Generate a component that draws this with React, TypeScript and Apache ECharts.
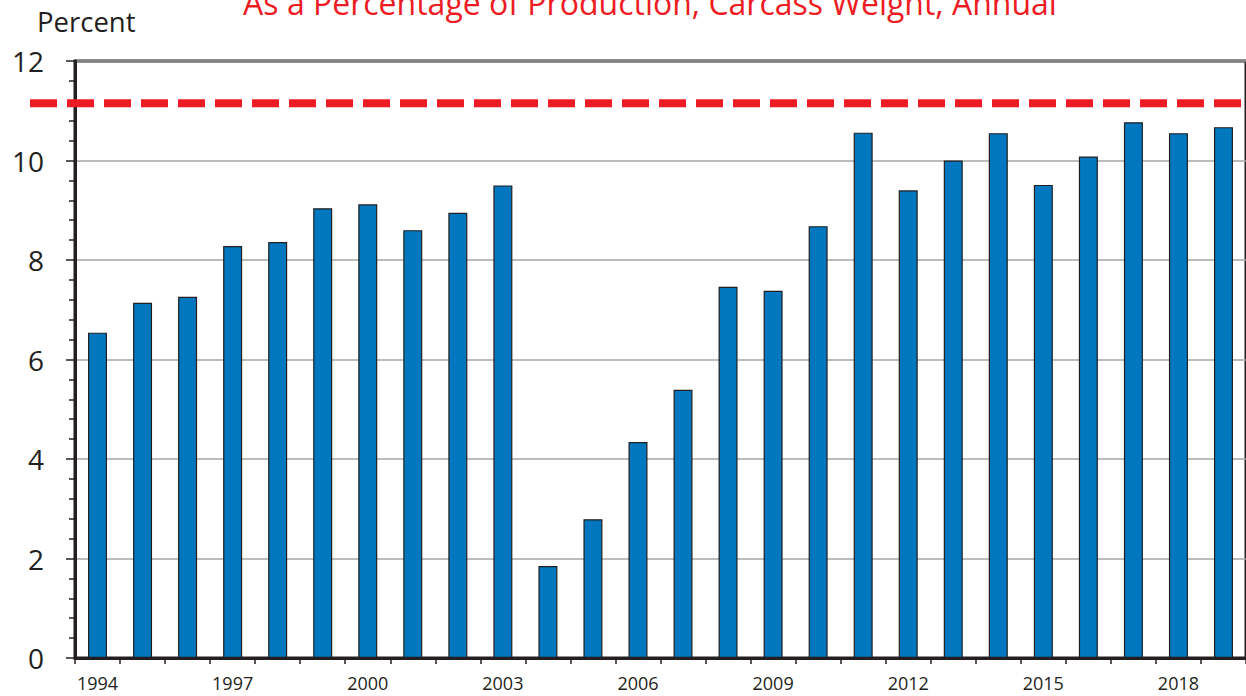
import React, { useEffect, useRef } from "react";
import * as echarts from "echarts";

const years: string[] = [
  "1994", "1995", "1996", "1997", "1998", "1999", "2000", "2001", "2002", "2003",
  "2004", "2005", "2006", "2007", "2008", "2009", "2010", "2011", "2012", "2013",
  "2014", "2015", "2016", "2017", "2018", "2019",
];
const shares: number[] = [
  6.54, 7.14, 7.26, 8.28, 8.36, 9.04, 9.12, 8.6, 8.95, 9.5,
  1.85, 2.79, 4.34, 5.39, 7.46, 7.38, 8.68, 10.56, 9.4, 10.0,
  10.55, 9.51, 10.08, 10.77, 10.55, 10.67,
];
const referenceLevel = 11.15;
const titleText = "As a Percentage of Production, Carcass Weight, Annual";
const yAxisName = "Percent";

const FONT = "'Open Sans', 'Noto Sans', sans-serif";

export default function App() {
  const ref = useRef<HTMLDivElement>(null);
  useEffect(() => {
    if (!ref.current) return;
    const chart = echarts.init(ref.current, null, { renderer: "svg" });
    chart.setOption({
      animation: false,
      backgroundColor: "#ffffff",
      grid: {
        left: 75,
        top: 61,
        width: 1175,
        height: 597,
        show: true,
        borderColor: "#231f20",
        borderWidth: 3,
        backgroundColor: "transparent",
      },
      xAxis: {
        type: "category",
        data: years,
        boundaryGap: true,
        axisLine: { show: true, lineStyle: { color: "#231f20", width: 3 } },
        axisTick: { show: true, interval: 0, length: 6, lineStyle: { color: "#231f20", width: 1.5 } },
        axisLabel: {
          interval: 2,
          color: "#231f20",
          fontSize: 18,
          lineHeight: 14,
          fontFamily: FONT,
          margin: 18,
        },
        splitLine: { show: false },
      },
      yAxis: {
        type: "value",
        min: 0,
        max: 12,
        interval: 2,
        axisLine: { show: true, lineStyle: { color: "#231f20", width: 3 } },
        axisTick: { show: true, length: 9, lineStyle: { color: "#231f20", width: 1.5 } },
        minorTick: { show: true, splitNumber: 5, length: 6, lineStyle: { color: "#231f20", width: 1.5 } },
        axisLabel: { color: "#231f20", fontSize: 28, fontFamily: FONT, margin: 31 },
        splitLine: { show: true, lineStyle: { color: "#a6a6a6", width: 1.5 } },
      },
      series: [
        {
          type: "bar",
          data: shares,
          barWidth: 19,
          itemStyle: { color: "#0077be", borderColor: "#231f20", borderWidth: 1.2 },
        },
      ],
    });
    const yRef = chart.convertToPixel({ yAxisIndex: 0 }, referenceLevel) as number;
    chart.setOption({
      graphic: [
        {
          type: "line",
          shape: { x1: 30, y1: yRef, x2: 1246, y2: yRef },
          style: { stroke: "#ed1c24", lineWidth: 8, lineDash: [27, 10] },
          z: 100,
        },
        {
          type: "text",
          x: 650,
          y: 18,
          style: {
            text: titleText,
            fill: "#ed1c24",
            fontSize: 32,
            fontFamily: FONT,
            textAlign: "center",
            textVerticalAlign: "bottom",
          },
        },
        {
          type: "text",
          x: 37,
          y: 21,
          style: {
            text: yAxisName,
            fill: "#231f20",
            fontSize: 27.5,
            fontFamily: FONT,
            textAlign: "left",
            textVerticalAlign: "middle",
          },
        },
      ],
    });
    return () => chart.dispose();
  }, []);
  return (
    <div
      ref={ref}
      style={{ position: "fixed", left: 0, top: 0, width: 1246, height: 696 }}
    />
  );
}
